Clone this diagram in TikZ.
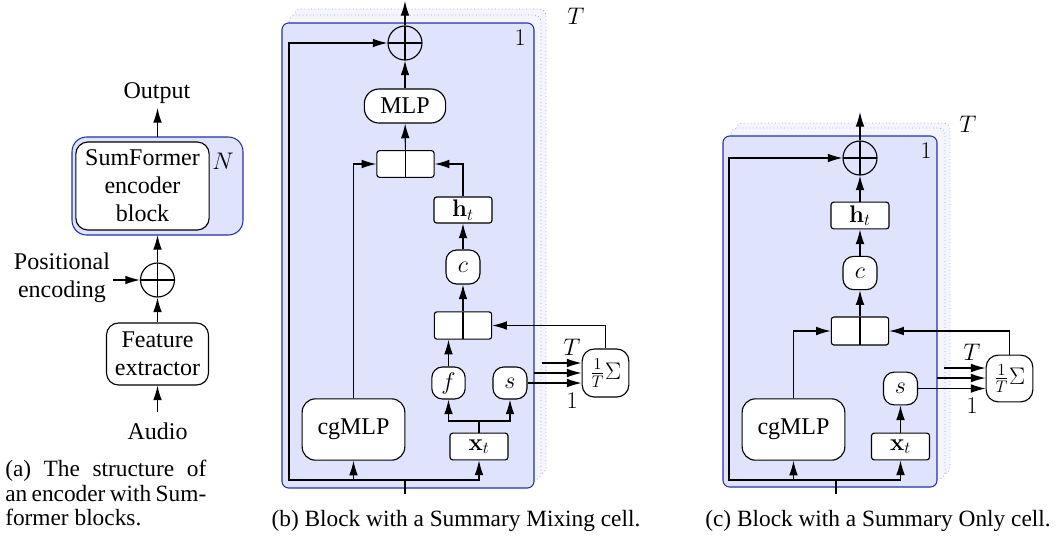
\RequirePackage{fix-cm}
\documentclass[tikz,border=0pt]{standalone}
\usepackage[no-math]{fontspec}
\setmainfont{Liberation Serif}
\usetikzlibrary{arrows.meta,calc}
\definecolor{bfill}{RGB}{224,227,252}
\definecolor{bline}{RGB}{35,50,165}
\tikzset{
  base/.style={font=\fontsize{18}{21}\selectfont},
  capt/.style={font=\fontsize{17.5}{21}\selectfont},
  box/.style={draw, fill=white, line width=0.85pt, inner sep=0pt, align=center},
  rbox/.style={box, rounded corners=9pt},
  sbox/.style={box, rounded corners=2pt},
  catbox/.style={box, rounded corners=2pt, minimum width=43pt, minimum height=20pt,
    path picture={\draw[line width=0.85pt] (path picture bounding box.north) -- (path picture bounding box.south);}},
  opl/.style={draw, circle, line width=0.85pt, minimum size=25.5pt, inner sep=0pt,
    path picture={\draw[line width=0.85pt] (path picture bounding box.north) -- (path picture bounding box.south)
      (path picture bounding box.west) -- (path picture bounding box.east);}},
  arr/.style={line width=0.85pt, -{Latex[length=11pt,width=6.5pt]}},
  ln/.style={line width=0.85pt},
  frame/.style={draw=bline, fill=bfill, line width=0.8pt, rounded corners=5pt},
  ghost/.style={draw=bline!45, dotted, fill=bfill!35, line width=0.6pt, rounded corners=5pt},
  lbl/.style={inner sep=0pt},
}
\begin{document}
\begin{tikzpicture}[x=0.75pt,y=-0.75pt,base]
\useasboundingbox (0,0) rectangle (1061,537);
% ===================== (a) =====================
\draw[frame, rounded corners=11pt] (72,137) rectangle (243,235);
\node[rbox, minimum width=100pt, minimum height=66pt] (sf) at (142.5,186) {SumFormer\\encoder\\block};
\node[lbl] (na) at (223,161) {$N$};
\coordinate (fa) at (157.5,137);
\node[lbl] (outa) at (157,93) {Output};
\draw[arr] (fa) -- (157.5,108);
\node[opl] (pa) at (157.5,280) {};
\draw[arr] (pa) -- (157.5,235);
\node[lbl, align=center] (pe) at (62,278) {Positional\\encoding};
\coordinate (pes) at (113,280);
\draw[arr] (pes) -- (pa);
\node[rbox, minimum width=76.5pt, minimum height=46.5pt] (fe) at (157.5,354) {Feature\\extractor};
\draw[arr] (fe) -- (pa);
\node[lbl] (au) at (157.5,431) {Audio};
\coordinate (aus) at (157.5,412);
\draw[arr] (aus) -- (fe);
\node[lbl, capt, anchor=base west] (ca1) at (5,476) {\makebox[150.75pt][s]{(a) The structure of}};
\node[lbl, capt, anchor=base west] (ca2) at (5,501) {\makebox[150.75pt][s]{an encoder with Sum-}};
\node[lbl, capt, anchor=base west] (ca3) at (5,525) {former blocks.};
% ===================== (b) =====================
\draw[ghost] (294,9) rectangle (546,474);
\draw[ghost] (289,15) rectangle (541,480);
\draw[frame] (282,23) rectangle (534,488);
\node[lbl] (tb) at (576,16) {$T$};
\node[lbl] (ob) at (520,38) {$1$};
\node[opl] (pb) at (405,43) {};
\coordinate (outb) at (405,1);
\draw[arr] (pb) -- (outb);
\node[rbox, rounded corners=11pt, minimum width=61pt, minimum height=25.5pt] (mlpb) at (405,106) {MLP};
\draw[arr] (mlpb) -- (pb);
\node[catbox] (cat1b) at (405.5,164) {};
\draw[arr] (cat1b) -- (mlpb);
\node[sbox, minimum width=43.5pt, minimum height=19.5pt] (htb) at (463,210) {$\mathbf{h}_t$};
\draw[arr] (htb.north) |- (cat1b.east);
\node[rbox, rounded corners=8pt, minimum width=25.5pt, minimum height=25.5pt] (cb) at (463,267) {$c$};
\draw[arr] (cb) -- (htb);
\node[catbox, minimum height=20.5pt] (cat2b) at (463,325.5) {};
\draw[arr] (cat2b) -- (cb);
\node[rbox, rounded corners=8pt, minimum width=25pt, minimum height=24pt] (fb) at (448.5,383) {$f$};
\draw[arr] (fb.north) -- (fb.north |- cat2b.south);
\node[rbox, rounded corners=8pt, minimum width=25.5pt, minimum height=24pt] (sb) at (510,383) {$s$};
\node[sbox, minimum width=43.5pt, minimum height=20pt] (xtb) at (479,446.5) {$\mathbf{x}_t$};
\coordinate (jxb) at (479,421);
\draw[ln] (xtb.north) -- (jxb);
\draw[arr] (jxb) -| (fb.south);
\draw[arr] (jxb) -| (sb.south);
\node[rbox, rounded corners=10pt, minimum width=77pt, minimum height=46pt] (cgb) at (353.5,429.5) {cgMLP};
\draw[arr] (cgb.north) |- (cat1b.west);
\coordinate (inb) at (405,494);
\coordinate (jb) at (405,480);
\coordinate (skb) at (289,43);
\draw[ln] (inb) -- (jb);
\draw[arr] (jb) -| (cgb.south);
\draw[arr] (jb) -| (xtb.south);
\draw[arr] (jb) -| (skb) -- (pb);
\node[rbox, rounded corners=9pt, minimum width=35pt, minimum height=36pt] (sumb) at (605.5,373) {$\frac{1}{T}\Sigma$};
\draw[arr] (sumb.north) |- (cat2b.east);
\coordinate (t1b) at (542,363);
\coordinate (t2b) at (534,373);
\draw[arr] (t1b) -- (t1b -| sumb.west);
\draw[arr] (t2b) -- (t2b -| sumb.west);
\draw[arr] (sb.east) -- (sb.east -| sumb.west);
\node[lbl] (tlb) at (572,347) {$T$};
\node[lbl] (olb) at (572,401) {$1$};
\node[lbl, capt, anchor=base] (cb2) at (456,526) {(b) Block with a Summary Mixing cell.};
% ===================== (c) =====================
\draw[ghost] (736,123) rectangle (950,474);
\draw[ghost] (731,128) rectangle (945,479);
\draw[frame] (723,136) rectangle (937,487);
\node[lbl] (tc) at (968,124) {$T$};
\node[lbl] (oc) at (926,151) {$1$};
\node[opl] (pc) at (860,158) {};
\coordinate (outc) at (860,112);
\draw[arr] (pc) -- (outc);
\node[sbox, minimum width=43.5pt, minimum height=20pt] (htc) at (860,215.5) {$\mathbf{h}_t$};
\draw[arr] (htc) -- (pc);
\node[rbox, rounded corners=8pt, minimum width=25.5pt, minimum height=25pt] (cc) at (860,273) {$c$};
\draw[arr] (cc) -- (htc);
\node[catbox, minimum height=21pt] (catc) at (860,331) {};
\draw[arr] (catc) -- (cc);
\node[rbox, rounded corners=8pt, minimum width=25.5pt, minimum height=24.5pt] (sc) at (900.5,388.5) {$s$};
\node[sbox, minimum width=43.5pt, minimum height=20pt] (xtc) at (900.5,446.5) {$\mathbf{x}_t$};
\draw[arr] (xtc) -- (sc);
\node[rbox, rounded corners=10pt, minimum width=77pt, minimum height=46pt] (cgc) at (793.5,429.5) {cgMLP};
\draw[arr] (cgc.north) |- (catc.west);
\coordinate (inc) at (836,494);
\coordinate (jc) at (836,480);
\coordinate (skc) at (729,158);
\draw[ln] (inc) -- (jc);
\draw[arr] (jc) -| (cgc.south);
\draw[arr] (jc) -| (xtc.south);
\draw[arr] (jc) -| (skc) -- (pc);
\node[rbox, rounded corners=9pt, minimum width=35pt, minimum height=35pt] (sumc) at (1009.5,378.5) {$\frac{1}{T}\Sigma$};
\draw[arr] (sumc.north) |- (catc.east);
\coordinate (t1c) at (944,368);
\coordinate (t2c) at (937,378);
\draw[arr] (t1c) -- (t1c -| sumc.west);
\draw[arr] (t2c) -- (t2c -| sumc.west);
\draw[arr] (sc.east) -- (sc.east -| sumc.west);
\node[lbl] (tlc) at (972,352) {$T$};
\node[lbl] (olc) at (972,406) {$1$};
\node[lbl, capt, anchor=base] (cc2) at (878,526) {(c) Block with a Summary Only cell.};
\end{tikzpicture}
\end{document}
